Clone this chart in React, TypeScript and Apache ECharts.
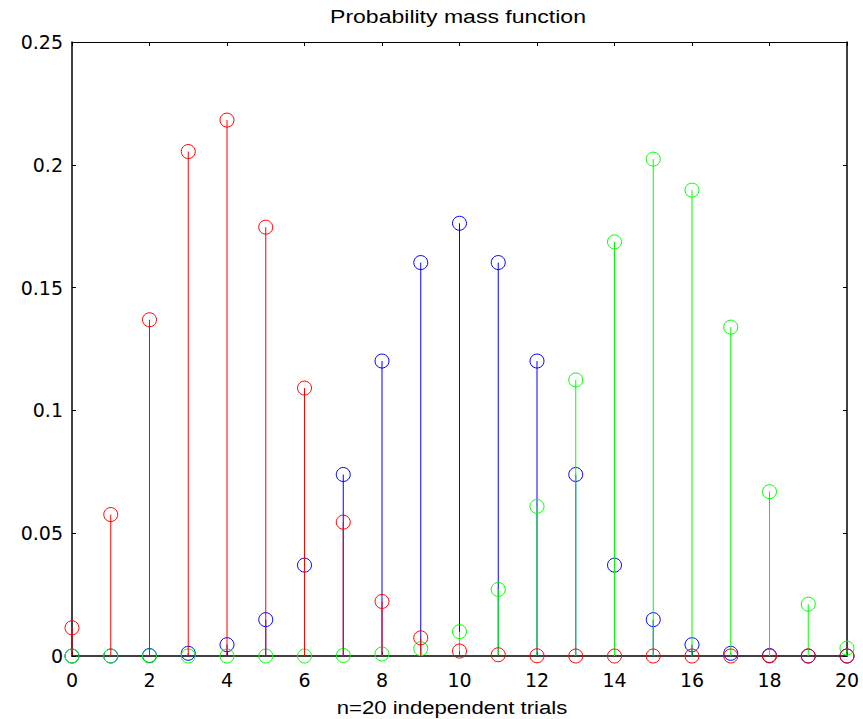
import React, { useEffect, useRef } from "react";
import * as echarts from "echarts";

// Number of successes k in n = 20 trials
const trials = [0, 1, 2, 3, 4, 5, 6, 7, 8, 9, 10, 11, 12, 13, 14, 15, 16, 17, 18, 19, 20];

// Binomial probabilities for three success rates
const pmfLow = [0.0115, 0.0576, 0.1369, 0.2054, 0.2182, 0.1746, 0.1091, 0.0545, 0.0222, 0.0074, 0.002, 0.0005, 0.0001, 0, 0, 0, 0, 0, 0, 0, 0];
const pmfMid = [0, 0, 0.0002, 0.0011, 0.0046, 0.0148, 0.037, 0.0739, 0.1201, 0.1602, 0.1762, 0.1602, 0.1201, 0.0739, 0.037, 0.0148, 0.0046, 0.0011, 0.0002, 0, 0];
const pmfHigh = [0, 0, 0, 0, 0, 0, 0, 0.0002, 0.0008, 0.003, 0.0099, 0.0271, 0.0609, 0.1124, 0.1686, 0.2023, 0.1897, 0.1339, 0.0669, 0.0211, 0.0032];

const xTicks = { min: 0, max: 20, interval: 2 };
const yTicks = { min: 0, max: 0.25, interval: 0.05 };

const titleText = "Probability mass function";
const xLabelText = "n=20 independent trials";

function stemSeries(name: string, values: number[], color: string, z: number) {
  return {
    name,
    type: "custom",
    clip: false,
    z,
    data: trials.map((k, i) => [k, values[i]]),
    renderItem: (_params: any, api: any) => {
      const top = api.coord([api.value(0), api.value(1)]);
      const base = api.coord([api.value(0), 0]);
      return {
        type: "group",
        children: [
          {
            type: "line",
            shape: { x1: base[0], y1: base[1], x2: top[0], y2: top[1] },
            style: { stroke: color, lineWidth: 1 },
          },
          {
            type: "circle",
            shape: { cx: top[0], cy: top[1], r: 7 },
            style: { fill: "transparent", stroke: color, lineWidth: 1 },
          },
        ],
      };
    },
  };
}

export default function App() {
  const ref = useRef<HTMLDivElement>(null);

  useEffect(() => {
    if (!ref.current) return;
    const chart = echarts.init(ref.current, null, { renderer: "svg" });
    const labelFont = { fontFamily: "DejaVu Sans", fontSize: 19, color: "#000" };
    const boxLine = (w: number) => ({ show: true, onZero: false, lineStyle: { color: "#000", width: w } });
    const inTicks = { show: true, inside: true, length: 4, lineStyle: { color: "#000" } };

    chart.setOption({
      animation: false,
      backgroundColor: "#fff",
      grid: { left: 72, right: 16, top: 42, bottom: 63, containLabel: false },
      xAxis: [
        {
          type: "value",
          ...xTicks,
          position: "bottom",
          axisLine: boxLine(1.5),
          axisTick: inTicks,
          splitLine: { show: false },
          axisLabel: { ...labelFont, margin: 14 },
        },
        {
          type: "value",
          ...xTicks,
          position: "top",
          axisLine: boxLine(1),
          axisTick: inTicks,
          splitLine: { show: false },
          axisLabel: { show: false },
        },
      ],
      yAxis: [
        {
          type: "value",
          ...yTicks,
          position: "left",
          axisLine: boxLine(1.5),
          axisTick: inTicks,
          splitLine: { show: false },
          axisLabel: { ...labelFont, margin: 9, padding: [6, 0, 0, 0] },
        },
        {
          type: "value",
          ...yTicks,
          position: "right",
          axisLine: boxLine(1.5),
          axisTick: inTicks,
          splitLine: { show: false },
          axisLabel: { show: false },
        },
      ],
      graphic: [
        {
          type: "text",
          x: 458,
          y: 16,
          scaleX: 1.28,
          style: {
            text: titleText,
            fontFamily: "Liberation Sans",
            fontSize: 18,
            fill: "#000",
            textAlign: "center",
            textVerticalAlign: "middle",
          },
        },
        {
          type: "text",
          x: 452,
          y: 708,
          scaleX: 1.23,
          style: {
            text: xLabelText,
            fontFamily: "Liberation Sans",
            fontSize: 18,
            fill: "#000",
            textAlign: "center",
            textVerticalAlign: "middle",
          },
        },
      ],
      series: [
        stemSeries("p=0.5", pmfMid, "#0000ff", 2),
        stemSeries("p=0.75", pmfHigh, "#00ff00", 3),
        stemSeries("p=0.2", pmfLow, "#ff0000", 4),
      ],
    });

    return () => chart.dispose();
  }, []);

  return (
    <div
      ref={ref}
      style={{ position: "fixed", left: 0, top: 0, width: 863, height: 719, background: "#fff" }}
    />
  );
}
